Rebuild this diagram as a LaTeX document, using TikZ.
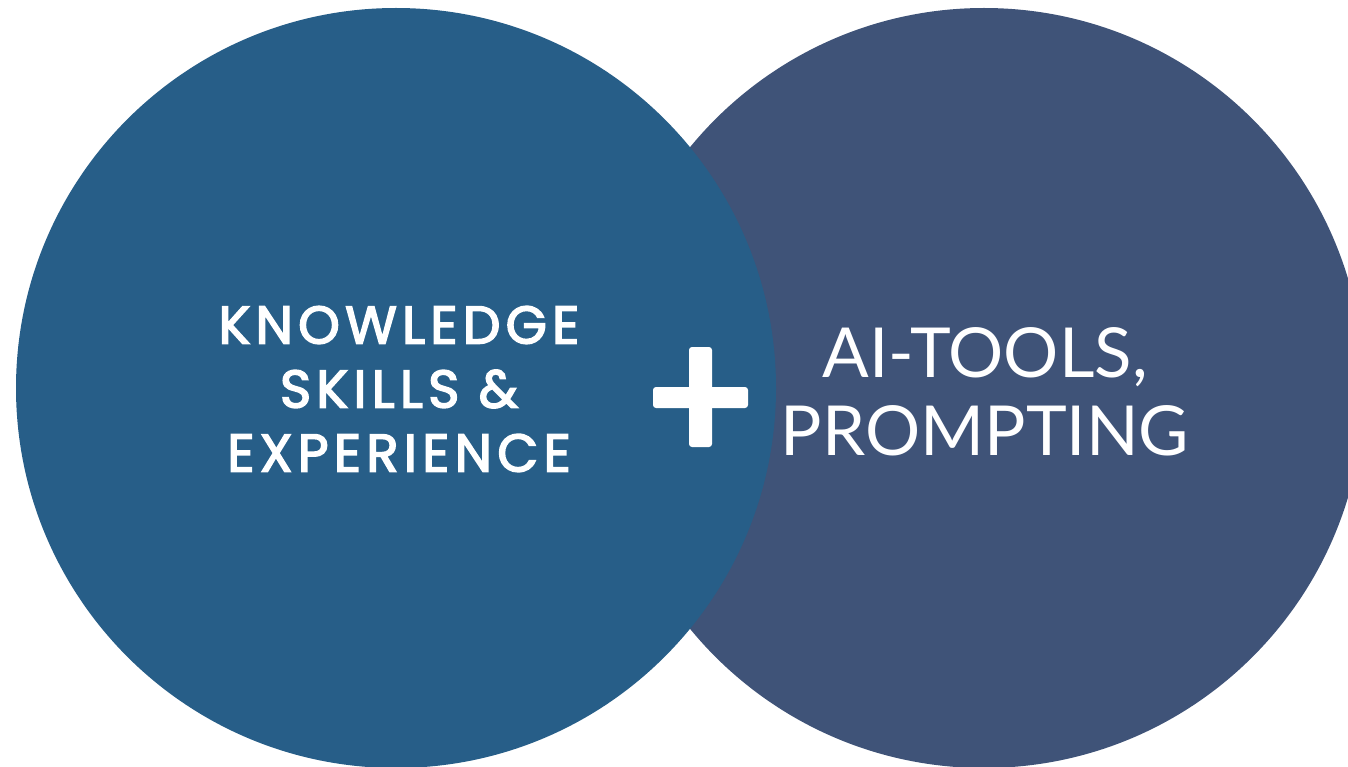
\documentclass[tikz,border=0pt]{standalone}
\usepackage{fontspec}
\setmainfont{Poppins}[LetterSpace=10]
\newfontfamily\leftfont{Poppins}[FakeBold=3,LetterSpace=10]
\newfontfamily\rightfont{Lato}
\definecolor{leftblue}{RGB}{39,94,136}
\definecolor{rightblue}{RGB}{63,83,120}
\begin{document}
\begin{tikzpicture}[x=1pt,y=-1pt,
  circ/.style={circle,minimum size=760pt,inner sep=0pt},
  lefttext/.style={text=white,align=center,font=\leftfont\fontsize{53}{64}\selectfont},
  righttext/.style={text=white,align=center,font=\rightfont\fontsize{69}{78}\selectfont}]
\useasboundingbox (0,0) rectangle (1348,767);
\begin{scope}
\clip (0,0) rectangle (1348,767);
\node[circ,fill=rightblue] (rc) at (984,388) {};
\node[circ,fill=leftblue] (lc) at (396,388) {};
\end{scope}
\node[lefttext,anchor=center] (lt) at (399,389) {KNOWLEDGE\\SKILLS \&\\EXPERIENCE};
\node[righttext,anchor=center] (rt) at (985,392) {AI-TOOLS,\\PROMPTING};
\node[fill=white,rounded corners=3pt,minimum width=23pt,minimum height=100pt,inner sep=0pt] (pv) at (700.5,397) {};
\node[fill=white,rounded corners=3pt,minimum width=95pt,minimum height=21pt,inner sep=0pt] (ph) at (700.5,397.5) {};
\end{tikzpicture}
\end{document}
